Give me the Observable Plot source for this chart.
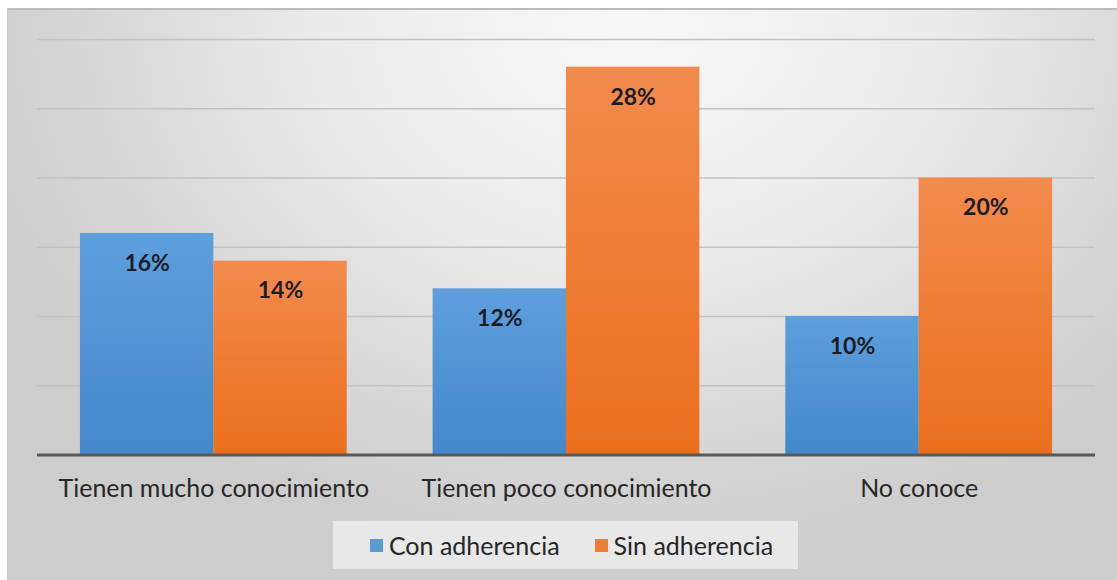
<!DOCTYPE html>
<html>
<head>
<meta charset="utf-8">
<script src="https://cdn.jsdelivr.net/npm/d3@7"></script>
<script src="https://cdn.jsdelivr.net/npm/@observablehq/plot@0.6"></script>
<style>
  html, body { margin: 0; padding: 0; background: #ffffff; }
  #chart {
    position: absolute; left: 7px; top: 8px; width: 1110px; height: 572px;
    border-top: 2px solid #bcbcbc; border-left: 1px solid #c8c8c8; box-sizing: border-box;
    background: radial-gradient(ellipse 62% 95% at 56% 2%, #f8f8f8 0%, #ebebeb 45%, #d6d6d6 80%, #cdcdcd 100%);
    font-family: Lato, sans-serif;
  }
  #legend {
    position: absolute; left: 325px; top: 511px; width: 465px; height: 48px; box-sizing: border-box;
    padding-left: 12px;
    background: #e8e8e8; display: flex; align-items: center; justify-content: center; gap: 35px;
    font-size: 25px; color: #262626;
  }
  #legend .item { display: flex; align-items: center; gap: 6px; }
  #legend .sw { width: 13px; height: 13px; display: inline-block; }
</style>
</head>
<body>
<div id="chart"></div>
<script>
const categories = ["Tienen mucho conocimiento", "Tienen poco conocimiento", "No conoce"];
const series = ["Con adherencia", "Sin adherencia"];
const conAdherencia = [16, 12, 10];
const sinAdherencia = [14, 28, 20];
const gridValues = [5, 10, 15, 20, 25, 30];
const seriesColors = ["#5b9bd5", "#ed7d31"];

const data = categories.flatMap((c, i) => [
  {category: c, series: series[0], value: conAdherencia[i]},
  {category: c, series: series[1], value: sinAdherencia[i]}
]);

const W = 1110, H = 510, mL = 29, mR = 22, mT = 29, mB = 65;
const xOpts = {type: "band", domain: categories, paddingInner: 0.244, paddingOuter: 0.122};
const half = Plot.scale({x: {...xOpts, range: [mL, W - mR]}}).bandwidth / 2;

const con = data.filter(d => d.series === series[0]);
const sin = data.filter(d => d.series === series[1]);

const plot = Plot.plot({
  width: W,
  height: H,
  marginLeft: mL,
  marginRight: mR,
  marginTop: mT,
  marginBottom: mB,
  style: {background: "transparent", fontFamily: "Lato, sans-serif", fontSize: "25px", color: "#262626", overflow: "visible"},
  x: {...xOpts, label: null, tickSize: 0, tickPadding: 24},
  y: {domain: [0, 30], axis: null},
  color: {domain: series, range: ["url(#gBlue)", "url(#gOrange)"]},
  marks: [
    Plot.ruleY(gridValues, {stroke: "#c2c2c2", strokeWidth: 1.5}),
    Plot.barY(con, {x: "category", y: "value", fill: "series", insetRight: half}),
    Plot.barY(sin, {x: "category", y: "value", fill: "series", insetLeft: half}),
    Plot.text(con, {x: "category", y: "value", text: d => d.value + "%", dx: -half / 2, dy: 30, fontWeight: "bold", fontSize: 23, fill: "#1c1c26"}),
    Plot.text(sin, {x: "category", y: "value", text: d => d.value + "%", dx: half / 2, dy: 30, fontWeight: "bold", fontSize: 23, fill: "#1c1c26"}),
    Plot.ruleY([0], {stroke: "#595959", strokeWidth: 3})
  ]
});

const svg = d3.select(plot);
const defs = svg.insert("defs", ":first-child");
const addGrad = (id, top, bottom) => {
  const g = defs.append("linearGradient").attr("id", id).attr("x1", 0).attr("y1", 0).attr("x2", 0).attr("y2", 1);
  g.append("stop").attr("offset", "0%").attr("stop-color", top);
  g.append("stop").attr("offset", "100%").attr("stop-color", bottom);
};
addGrad("gBlue", "#5e9fdd", "#4288cb");
addGrad("gOrange", "#f28b4c", "#eb6f1d");

const chart = document.getElementById("chart");
chart.appendChild(plot);

const legend = document.createElement("div");
legend.id = "legend";
series.forEach((s, i) => {
  const item = document.createElement("span");
  item.className = "item";
  const sw = document.createElement("span");
  sw.className = "sw";
  sw.style.background = seriesColors[i];
  const t = document.createElement("span");
  t.textContent = s;
  item.appendChild(sw);
  item.appendChild(t);
  legend.appendChild(item);
});
chart.appendChild(legend);
</script>
</body>
</html>
